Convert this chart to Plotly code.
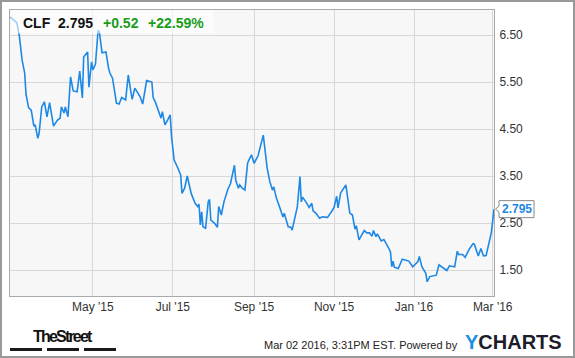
import plotly.graph_objects as go
import pandas as pd

# ---- data ----
ticker = "CLF"
last_price = 2.795
last_price_text = "2.795"
change_text = "+0.52"
change_pct_text = "+22.59%"
timestamp_text = "Mar 02 2016, 3:31PM EST. Powered by"

base_date = "2015-05-01"
days_from_base = [
    -63, -58, -56, -55, -54, -52, -51, -49, -47, -45,
    -44, -42, -41, -39, -37, -35, -33, -30, -27, -25,
    -24, -22, -21, -19, -17, -15, -12, -10, -8, -7,
    -4, -3, -1, 0, 2, 4, 5, 7, 10, 12,
    13, 15, 18, 20, 22, 25, 27, 29, 30, 32,
    34, 36, 38, 41, 45, 46, 48, 51, 52, 53,
    55, 57, 59, 60, 62, 65, 67, 68, 70, 72,
    75, 78, 80, 81, 82, 83, 84, 86, 88, 89,
    90, 93, 95, 96, 98, 100, 103, 105, 108, 109,
    111, 112, 114, 116, 118, 119, 121, 123, 125, 126,
    130, 133, 135, 137, 138, 140, 142, 145, 146, 149,
    151, 152, 156, 158, 159, 160, 163, 165, 167, 168,
    170, 173, 175, 179, 182, 184, 186, 187, 189, 193,
    196, 198, 200, 201, 203, 205, 207, 209, 211, 213,
    214, 216, 217, 220, 222, 225, 227, 228, 229, 230,
    233, 236, 239, 241, 244, 246, 248, 249, 251, 254,
    255, 257, 260, 262, 264, 267, 270, 272, 276, 278,
    279, 282, 284, 287, 290, 291, 294, 296, 298, 300,
    302, 304, 306,
]
close = [
    6.88, 6.76, 6.46, 6.25, 5.97, 5.69, 5.24, 4.95, 4.90, 4.56,
    4.59, 4.30, 4.41, 4.97, 5.08, 4.76, 5.06, 4.56, 4.69, 4.73,
    4.97, 4.84, 4.97, 4.76, 5.61, 5.31, 5.29, 5.73, 5.16, 6.03,
    6.14, 5.39, 5.93, 5.76, 5.88, 6.60, 6.56, 6.12, 6.14, 5.79,
    5.69, 5.58, 5.05, 5.03, 5.17, 5.12, 5.65, 5.29, 5.13, 5.37,
    5.29, 5.19, 5.03, 5.53, 5.50, 5.17, 5.05, 4.83, 4.73, 4.87,
    4.59, 4.69, 4.80, 4.34, 3.84, 3.66, 3.52, 3.13, 3.24, 3.50,
    3.13, 2.92, 2.85, 2.90, 2.46, 2.74, 2.42, 2.39, 2.95, 3.00,
    2.56, 2.49, 2.41, 2.85, 2.67, 2.95, 3.22, 3.34, 3.73, 3.41,
    3.24, 3.31, 3.24, 3.20, 3.77, 3.84, 3.95, 3.77, 3.87, 3.93,
    4.37, 3.66, 3.38, 3.20, 3.27, 3.03, 2.88, 2.63, 2.71, 2.42,
    2.41, 2.35, 2.85, 3.49, 2.95, 3.05, 2.93, 2.83, 2.92, 2.76,
    2.71, 2.60, 2.63, 2.62, 2.74, 2.83, 3.07, 2.82, 3.14, 3.31,
    2.71, 2.67, 2.37, 2.44, 2.14, 2.24, 2.34, 2.29, 2.29, 2.22,
    2.34, 2.21, 2.27, 2.12, 2.15, 2.00, 1.89, 1.57, 1.69, 1.56,
    1.53, 1.73, 1.70, 1.69, 1.57, 1.62, 1.68, 1.79, 1.57, 1.43,
    1.25, 1.36, 1.37, 1.39, 1.61, 1.54, 1.49, 1.59, 1.57, 1.90,
    1.83, 1.83, 1.77, 1.94, 2.06, 2.05, 1.80, 1.96, 1.80, 1.81,
    2.04, 2.30, 2.795,
]

x_tick_dates = ["2015-05-01", "2015-07-01", "2015-09-01",
                "2015-11-01", "2016-01-01", "2016-03-01"]
x_tick_labels = ["May '15", "Jul '15", "Sep '15", "Nov '15", "Jan '16", "Mar '16"]
y_tick_values = [1.5, 2.5, 3.5, 4.5, 5.5, 6.5]
y_tick_labels = ["1.50", "2.50", "3.50", "4.50", "5.50", "6.50"]

dates = pd.Timestamp(base_date) + pd.to_timedelta(days_from_base, unit="D")

# ---- layout geometry (pixels) ----
W, H = 575, 358
L, R, T, B = 10, 494, 10, 296
PW, PH = R - L, B - T


def px(x):
    return (x - L) / PW


def py(y):
    return (B - y) / PH


FONT = "Liberation Sans, Arial, sans-serif"
LINE_BLUE = "#1e88e5"
GREEN = "#1a9c1a"

fig = go.Figure()
fig.add_trace(go.Scatter(
    x=dates, y=close, mode="lines",
    line=dict(color=LINE_BLUE, width=1.6),
    hoverinfo="skip", showlegend=False,
))

fig.update_layout(
    width=W, height=H,
    margin=dict(l=L, r=W - R, t=T, b=H - B, pad=0),
    paper_bgcolor="white",
    plot_bgcolor="#f7f7f7",
    font=dict(family=FONT, size=12, color="#333333"),
    xaxis=dict(
        type="date",
        range=["2015-02-26 19:00", "2016-03-02"],
        tickvals=x_tick_dates, ticktext=x_tick_labels,
        showgrid=True, gridcolor="#d8d8d8", gridwidth=1,
        showline=True, linecolor="#aaaaaa", linewidth=1, mirror=True,
        ticks="", zeroline=False,
        tickfont=dict(size=12, color="#333333", family=FONT),
    ),
    yaxis=dict(
        side="right",
        range=[0.947, 7.032],
        tickvals=y_tick_values, ticktext=y_tick_labels,
        showgrid=True, gridcolor="#d8d8d8", gridwidth=1,
        showline=True, linecolor="#aaaaaa", linewidth=1, mirror=True,
        ticks="", zeroline=False,
        ticklabelstandoff=2,
        tickfont=dict(size=12, color="#333333", family=FONT),
    ),
)

shapes = []
# outer frame
shapes.append(dict(type="rect", xref="paper", yref="paper",
                   x0=px(1), x1=px(574), y0=py(357), y1=py(1),
                   line=dict(color="#999999", width=2), fillcolor="rgba(0,0,0,0)",
                   layer="above"))
# header box
shapes.append(dict(type="rect", xref="paper", yref="paper",
                   x0=px(10.5), x1=px(213), y0=py(33.5), y1=py(10.5),
                   line=dict(width=0), fillcolor="rgba(255,255,255,0.6)",
                   layer="above"))
# last price marker box
shapes.append(dict(type="path", xref="paper", yref="y",
                   xsizemode="pixel", ysizemode="pixel",
                   xanchor=1.0, yanchor=last_price,
                   path="M 1.5,0 L 5,3 L 5,8.5 L 40,8.5 L 40,-8.5 L 5,-8.5 L 5,-3 Z",
                   line=dict(color="#888888", width=1), fillcolor="white",
                   layer="above"))
# TheStreet bars
for x0, x1 in [(10, 42), (47, 79), (84, 116)]:
    shapes.append(dict(type="rect", xref="paper", yref="paper",
                       x0=px(x0), x1=px(x1), y0=py(351), y1=py(348),
                       line=dict(width=0), fillcolor="#1a1a1a"))
fig.update_layout(shapes=shapes)

ann = []
hy = py(23.5)
ann.append(dict(text="<b>%s</b>" % ticker, x=px(20.5), y=hy))
ann.append(dict(text="<b>%s</b>" % last_price_text, x=px(56), y=hy))
ann.append(dict(text="<b>%s</b>" % change_text, x=px(100.5), y=hy, color=GREEN))
ann.append(dict(text="<b>%s</b>" % change_pct_text, x=px(145.5), y=hy, color=GREEN))
annotations = []
for a in ann:
    annotations.append(dict(
        text=a["text"], xref="paper", yref="paper", x=a["x"], y=a["y"],
        xanchor="left", yanchor="middle", showarrow=False,
        font=dict(family=FONT, size=14, color=a.get("color", "#111111")),
    ))
# last price label
annotations.append(dict(
    text="<b>%s</b>" % last_price_text, xref="paper", yref="y",
    x=px(500), y=last_price, xanchor="left", yanchor="middle", showarrow=False,
    font=dict(family=FONT, size=12, color=LINE_BLUE),
))
# footer
annotations.append(dict(
    text="<b><span style='letter-spacing:-1.8px'>TheStreet</span></b>",
    xref="paper", yref="paper",
    x=px(63), y=py(336), xanchor="center", yanchor="middle", showarrow=False,
    font=dict(family=FONT, size=16, color="#111111"),
))
annotations.append(dict(
    text=timestamp_text, xref="paper", yref="paper",
    x=px(460), y=py(345), xanchor="right", yanchor="middle", showarrow=False,
    font=dict(family=FONT, size=11, color="#222222"),
))
annotations.append(dict(
    text="<b><span style='color:#1a8fe3'>Y</span>CHARTS</b>", xref="paper", yref="paper",
    x=px(463), y=py(341.5), xanchor="left", yanchor="middle", showarrow=False,
    font=dict(family=FONT, size=20, color="#1c1c2a"),
))
fig.update_layout(annotations=annotations)

fig.write_html("out.html", config={"displayModeBar": False},
               post_script="document.body.style.margin='0px';")
